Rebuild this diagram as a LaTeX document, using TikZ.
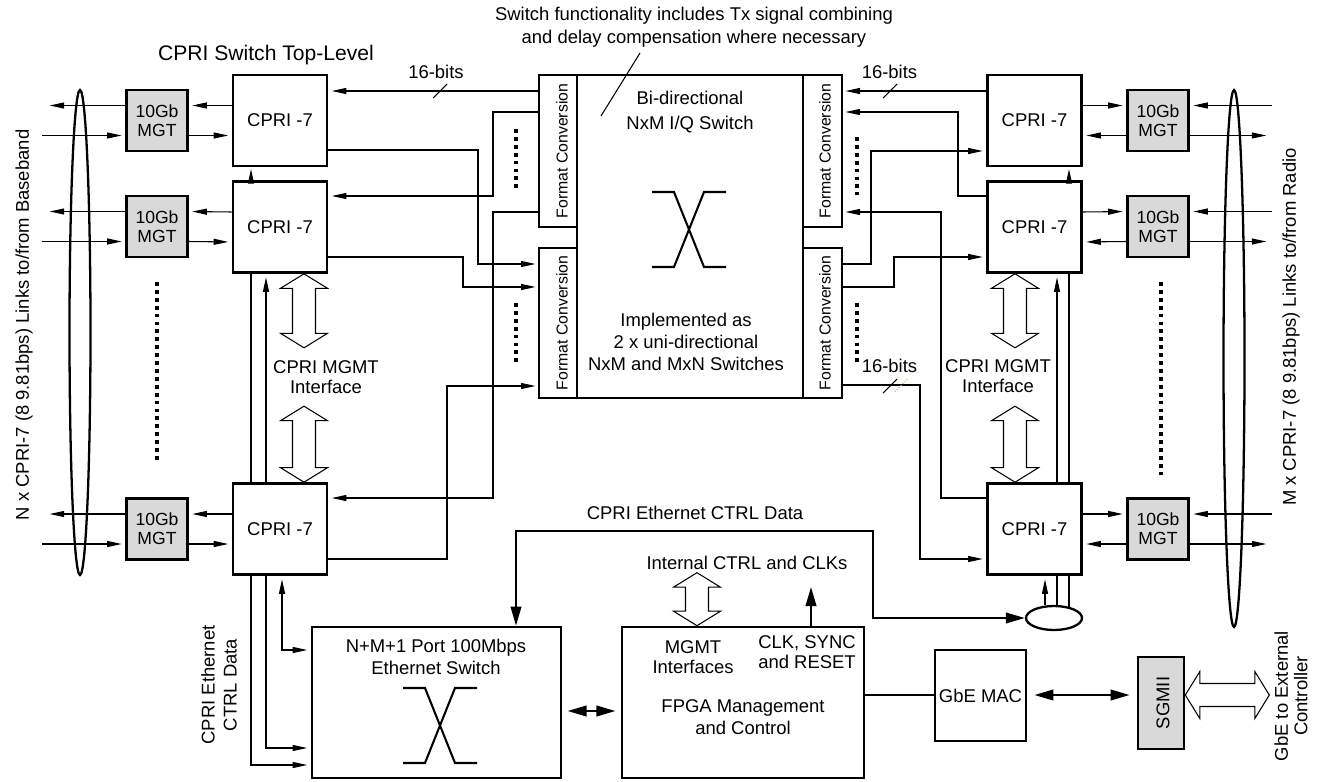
\documentclass[tikz,border=0pt]{standalone}
\usepackage{fontspec}
\setmainfont{Liberation Sans}
\usetikzlibrary{arrows.meta,calc,positioning,shapes.geometric}
\definecolor{mgtfill}{HTML}{D9D9D9}
\definecolor{tickorange}{HTML}{F2A33A}
\tikzset{
  block/.style={
    draw,
    line width=1.5pt,
    fill=white,
    align=center,
    inner sep=0pt,
    font=\fontsize{10.5}{12.5}\selectfont
  },
  cprbox/.style={block, minimum width=1.88cm, minimum height=1.82cm},
  mgtbox/.style={block, fill=mgtfill, minimum width=1.22cm, minimum height=1.22cm, font=\fontsize{10}{11}\selectfont},
  fcbox/.style={draw, line width=0.6pt, inner sep=0pt, outer sep=0pt},
  fclbl/.style={rotate=90, inner sep=0pt, font=\fontsize{9}{10}\selectfont},
  lbl/.style={align=center, inner sep=0pt, font=\fontsize{10.5}{12.5}\selectfont},
  wire/.style={line width=0.6pt},
  sig/.style={wire, shorten >=2pt, -{Triangle[length=2.9mm,width=1.2mm]}},
  sigb/.style={wire, shorten >=2pt, shorten <=2pt, {Triangle[length=2.9mm,width=1.2mm]}-{Triangle[length=2.9mm,width=1.2mm]}},
  bus/.style={line width=1.3pt},
  busa/.style={bus, -{Triangle[length=3.8mm,width=2.1mm]}},
  busb/.style={bus, {Triangle[length=3.8mm,width=2.1mm]}-{Triangle[length=3.8mm,width=2.1mm]}},
  swframe/.style={line width=1.5pt, line join=miter},
  xcross/.style={line width=1.2pt},
  hollow/.style={draw, line width=0.6pt, fill=white, line join=miter},
  dotcol/.style={line width=2.2pt, dash pattern=on 2.2pt off 2.3pt},
  oval/.style={ellipse, draw, line width=1.3pt, inner sep=0pt},
  slashmark/.style={line width=0.6pt}
}
% hollow double arrows, tip at #1, length #2 (px)
\newcommand{\vbiarrow}[2]{%
  \draw[hollow] #1 -- ++(23.5,14.5) -- ++(-12,0) -- ++(0,#2-29) -- ++(12,0)
    -- ++(-23.5,14.5) -- ++(-23.5,-14.5) -- ++(12,0) -- ++(0,29-#2) -- ++(-12,0) -- cycle;
}
\newcommand{\hbiarrow}[2]{%
  \draw[hollow] #1 -- ++(14.5,-23.5) -- ++(0,12) -- ++(#2-29,0) -- ++(0,-12)
    -- ++(14.5,23.5) -- ++(-14.5,23.5) -- ++(0,-12) -- ++(29-#2,0) -- ++(0,12) -- cycle;
}
\newcommand{\xswitch}[2]{%
  \draw[xcross] (#1-37,#2-37.5) -- (#1-15,#2-37.5) -- (#1+15,#2+37.5) -- (#1+37,#2+37.5);
  \draw[xcross] (#1-37,#2+37.5) -- (#1-15,#2+37.5) -- (#1+15,#2-37.5) -- (#1+37,#2-37.5);
}

\begin{document}
\begin{tikzpicture}[x=0.02cm,y=-0.02cm]
\useasboundingbox (0,0) rectangle (1318,781);

\node[lbl, font=\fontsize{12}{14}\selectfont] (title) at (266,55) {CPRI Switch Top-Level};
\node[lbl, font=\fontsize{10.5}{13}\selectfont] (note) at (694,27) {Switch functionality includes Tx signal combining\\and delay compensation where necessary};
\node[lbl, rotate=90] (bblabel) at (24,325) {N x CPRI-7 (8 9.81bps) Links to/from Baseband};
\node[lbl, rotate=90] (rdlabel) at (1291,327) {M x CPRI-7 (8 9.81bps) Links to/from Radio};

% link bundles
\node[oval, minimum width=0.42cm, minimum height=9.7cm] (ovall) at (80,332.5) {};
\node[oval, minimum width=0.42cm, minimum height=10.74cm] (ovalr) at (1234,358.5) {};

% CPRI cores and transceivers
\node[cprbox] (cprl1) at (280,120.5) {CPRI -7};
\node[cprbox] (cprl2) at (280,227) {CPRI -7};
\node[cprbox] (cprl3) at (280,529) {CPRI -7};
\node[cprbox] (cprr1) at (1034.5,120.5) {CPRI -7};
\node[cprbox] (cprr2) at (1034.5,227) {CPRI -7};
\node[cprbox] (cprr3) at (1034.5,529) {CPRI -7};

\node[mgtbox] (mgtl1) at (157,120.5) {10Gb\\MGT};
\node[mgtbox] (mgtl2) at (157,226.5) {10Gb\\MGT};
\node[mgtbox] (mgtl3) at (157,529) {10Gb\\MGT};
\node[mgtbox] (mgtr1) at (1158,120.5) {10Gb\\MGT};
\node[mgtbox] (mgtr2) at (1158,226.5) {10Gb\\MGT};
\node[mgtbox] (mgtr3) at (1158,529) {10Gb\\MGT};

% I/Q switch
\node[fcbox, minimum width=0.76cm, minimum height=3.04cm] (fcl1) at (558,151) {};
\node[fcbox, minimum width=0.76cm, minimum height=3.0cm] (fcl2) at (558,323) {};
\node[fcbox, minimum width=0.78cm, minimum height=3.04cm] (fcr1) at (822.5,151) {};
\node[fcbox, minimum width=0.78cm, minimum height=3.0cm] (fcr2) at (822.5,323) {};
\draw[swframe] (fcl1.north west) -- (fcr1.north east) -- (fcr1.south east) -- (fcr1.south west)
  -- (fcr2.north west) -- (fcr2.north east) -- (fcr2.south east) -- (fcl2.south west)
  -- (fcl2.north west) -- (fcl2.north east) -- (fcl1.south east) -- (fcl1.south west) -- cycle;
\node[fclbl] (fcl1t) at (562,151) {Format Conversion};
\node[fclbl] (fcl2t) at (562,323) {Format Conversion};
\node[fclbl] (fcr1t) at (825,151) {Format Conversion};
\node[fclbl] (fcr2t) at (825,323) {Format Conversion};
\node[lbl, font=\fontsize{10.5}{14}\selectfont] (bidir) at (690,112) {Bi-directional\\NxM I/Q Switch};
\node[lbl] (unidir) at (686,342) {Implemented as\\2 x uni-directional\\NxM and MxN Switches};
\xswitch{689}{229.5}
\coordinate (leadtop) at (640,53);
\coordinate (leadend) at (601,116);
\draw[wire] (leadtop) -- (leadend);

% bottom row
\node[block, minimum width=4.98cm, minimum height=3.02cm] (ethsw) at (436.5,702.5) {};
\node[lbl] (ethswt) at (436,657) {N+M+1 Port 100Mbps\\Ethernet Switch};
\xswitch{440}{725.5}
\node[block, minimum width=4.84cm, minimum height=3.02cm] (fpga) at (743,702.5) {};
\node[lbl, font=\fontsize{10.5}{11.5}\selectfont] (mgmtif) at (693,657) {MGMT\\Interfaces};
\node[lbl, font=\fontsize{10.5}{11.5}\selectfont] (clksync) at (807,652) {CLK, SYNC\\and RESET};
\node[lbl] (fpgat) at (743,717) {FPGA Management\\and Control};
\node[lbl] (intctrl) at (747,563) {Internal CTRL and CLKs};
\node[lbl] (ethctrl) at (695,513) {CPRI Ethernet CTRL Data};
\node[block, minimum width=1.82cm, minimum height=1.82cm] (gbemac) at (980.5,695.5) {GbE MAC};
\node[block, fill=mgtfill, minimum width=0.92cm, minimum height=1.84cm] (sgmii) at (1161,703) {};
\node[lbl, rotate=90] (sgmiit) at (1163,703) {SGMII};
\node[lbl, rotate=90, font=\fontsize{10.5}{11}\selectfont] (extctrl) at (1291,696) {GbE to External\\Controller};
\node[lbl, rotate=90] (ctrldata) at (219,685) {CPRI Ethernet\\CTRL Data};
\node[oval, minimum width=1.12cm, minimum height=0.48cm] (ethtap) at (1054,618) {};

% serial links
\foreach \i in {1,2,3} {
  \draw[sig] ([yshift=0.3cm]cprl\i.west) -- ([yshift=0.3cm]mgtl\i.east);
  \draw[sig] ([yshift=0.3cm]mgtl\i.west) -- ([yshift=0.3cm,xshift=-1.58cm]mgtl\i.west);
  \draw[sig] ([yshift=-0.3cm,xshift=-1.66cm]mgtl\i.west) -- ([yshift=-0.3cm]mgtl\i.west);
  \draw[sig] ([yshift=-0.3cm]mgtl\i.east) -- ([yshift=-0.3cm]cprl\i.west);
  \draw[sig] ([yshift=0.3cm]cprr\i.east) -- ([yshift=0.3cm]mgtr\i.west);
  \draw[sig] ([yshift=0.3cm,xshift=1.65cm]mgtr\i.east) -- ([yshift=0.3cm]mgtr\i.east);
  \draw[sig] ([yshift=-0.3cm]mgtr\i.west) -- ([yshift=-0.3cm]cprr\i.east);
  \draw[sig] ([yshift=-0.3cm]mgtr\i.east) -- ([yshift=-0.3cm,xshift=1.6cm]mgtr\i.east);
}

% I/Q paths, left
\draw[sig] (fcl1.west |- 0,91) -- (cprl1.east |- 0,91);
\draw[sig] (fcl1.west |- 0,112) -| (493,196) -- (cprl2.east |- 0,196);
\draw[sig] (fcl1.west |- 0,212) -| (493,498) -- (cprl3.east |- 0,498);
\draw[sig] (cprl1.east |- 0,150) -| (478,264) -- (fcl2.west |- 0,264);
\draw[sig] (cprl2.east |- 0,257) -| (463,287) -- (fcl2.west |- 0,287);
\draw[sig] (cprl3.east |- 0,559) -| (447,386) -- (fcl2.west |- 0,386);
% I/Q paths, right
\draw[sig] (cprr1.west |- 0,91) -- (fcr1.east |- 0,91);
\draw[sig] (cprr2.west |- 0,196) -| (958,112) -- (fcr1.east |- 0,112);
\draw[sig] (fcr2.east |- 0,264) -| (871,151) -- (cprr1.west |- 0,151);
\draw[sig] (cprr3.west |- 0,498) -| (941,212) -- (fcr1.east |- 0,212);
\draw[sig] (fcr2.east |- 0,287) -| (894,257) -- (cprr2.west |- 0,257);
\draw[sig] (fcr2.east |- 0,385) -| (920,559) -- (cprr3.west |- 0,559);

% bus widths
\node[lbl] (bitsl) at (436,72) {16-bits};
\node[lbl] (bitsr) at (889.5,72) {16-bits};
\node[lbl] (bitsb) at (889.5,366) {16-bits};
\draw[slashmark] (433,98) -- (447,84);
\draw[slashmark] (883,98) -- (897,84);
\draw[slashmark] (883,393) -- (897,379);
\draw[slashmark, tickorange, densely dotted] (895,392) -- (908,378);

% chain and control links, left
\draw[sig, shorten >=1pt] (cprl2.north -| 251,0) -- (cprl1.south -| 251,0);
\draw[wire] (cprl2.south -| 251,0) -- (cprl3.north -| 251,0);
\draw[sig] (cprl3.north -| 266,0) -- (cprl2.south -| 266,0);
\draw[sig] (cprl3.south -| 251,0) |- (ethsw.west |- 0,765);
\draw[sig] (cprl3.south -| 266,0) |- (ethsw.west |- 0,748);
\draw[sigb] (cprl3.south -| 282,0) |- (ethsw.west |- 0,650);
% chain and control links, right
\draw[sig, shorten >=1pt] (cprr2.north -| 1069,0) -- (cprr1.south -| 1069,0);
\draw[wire] (cprr2.south -| 1069,0) -- (cprr3.north -| 1069,0);
\draw[sig] (cprr3.north -| 1057,0) -- (cprr2.south -| 1057,0);
\draw[sig] (ethtap.north -| 1045,0) -- (cprr3.south -| 1045,0);
\draw[wire] (cprr3.south -| 1057,0) -- (ethtap.north -| 1057,0);
\draw[wire] (cprr3.south -| 1069,0) -- ([yshift=-0.04cm]ethtap.north -| 1069,0);

% management interfaces
\vbiarrow{(cprl2.south -| 304,0)}{74}
\vbiarrow{($(cprl3.north -| 304,0)+(0,-76)$)}{76}
\vbiarrow{(cprr2.south -| 1015,0)}{74}
\vbiarrow{($(cprr3.north -| 1015,0)+(0,-76)$)}{76}
\vbiarrow{($(fpga.north -| 697,0)+(0,-53)$)}{53}
\node[lbl, font=\fontsize{10.5}{11.5}\selectfont] (mgmtl) at (326,377) {CPRI MGMT\\Interface};
\node[lbl, font=\fontsize{10.5}{11.5}\selectfont] (mgmtr) at (998,376) {CPRI MGMT\\Interface};

% dots
\draw[dotcol] (157,282) -- (157,460);
\draw[dotcol] (1161,282) -- (1161,475);
\draw[dotcol] (516,129) -- (516,188);
\draw[dotcol] (516,303) -- (516,362);
\draw[dotcol] (857,137) -- (857,195);
\draw[dotcol] (857,303) -- (857,362);

% ethernet control and management
\draw[busb] (ethsw.north -| 516,0) |- (873,531) |- (ethtap.west);
\draw[busb, shorten <=3pt, shorten >=3pt] (ethsw.east |- 0,711) -- (fpga.west |- 0,711);
\coordinate (clkout) at (811,587);
\draw[busa] (fpga.north -| clkout) -- (clkout);
\draw[bus] (fpga.east |- 0,695) -- (gbemac.west |- 0,695);
\draw[busb, shorten <=4pt, shorten >=4pt] (gbemac.east |- 0,695) -- (sgmii.west |- 0,695);
\hbiarrow{(sgmii.east |- 0,695)}{84}

\end{tikzpicture}
\end{document}
